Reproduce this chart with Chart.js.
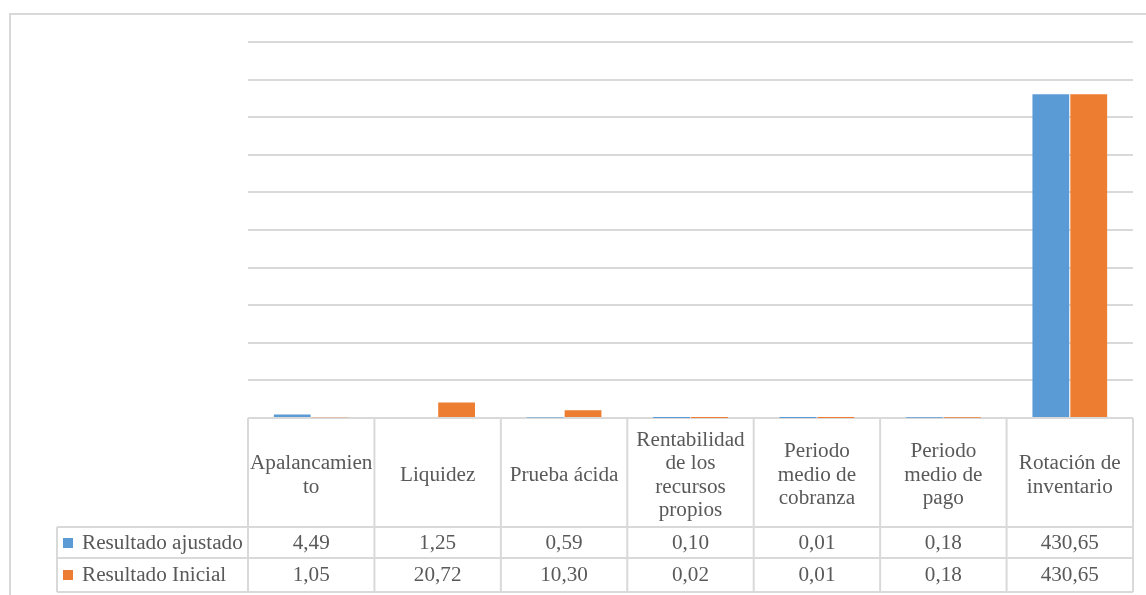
<!DOCTYPE html>
<html lang="es">
<head>
<meta charset="utf-8">
<script src="https://cdn.jsdelivr.net/npm/chart.js@4.4.1/dist/chart.umd.min.js"></script>
<style>
  html, body { margin: 0; padding: 0; background: #ffffff; }
  #wrap { width: 1146px; height: 595px; position: relative; }
</style>
</head>
<body>
<div id="wrap"><canvas id="chart" width="1146" height="595"></canvas></div>
<script>
// Indicator names (header lines of the data table)
const categories = [
  ['Apalancamien', 'to'],
  ['Liquidez'],
  ['Prueba ácida'],
  ['Rentabilidad', 'de los', 'recursos', 'propios'],
  ['Periodo', 'medio de', 'cobranza'],
  ['Periodo', 'medio de', 'pago'],
  ['Rotación de', 'inventario']
];

const seriesNames = ['Resultado ajustado', 'Resultado Inicial'];
const resultadoAjustado = [4.49, 1.25, 0.59, 0.10, 0.01, 0.18, 430.65];
const resultadoInicial  = [1.05, 20.72, 10.30, 0.02, 0.01, 0.18, 430.65];
const seriesColors = ['#5b9bd5', '#ed7d31'];

const yMax = 500;
const yStep = 50;

const TEXT = '#595959';
const LINE = '#d9d9d9';
const FONT = '20px "Liberation Serif", "Times New Roman", serif';
const STRETCH = 1.06;

function fmt(v) {
  return v.toFixed(2).replace('.', ',');
}

function stretchedText(ctx, text, x, y) {
  ctx.save();
  ctx.translate(x, y);
  ctx.scale(STRETCH, 1);
  ctx.fillText(text, 0, 0);
  ctx.restore();
}

// Frame, data table and legend keys beneath the plot
const dataTable = {
  id: 'dataTable',
  beforeDraw(chart) {
    const ctx = chart.ctx;
    ctx.save();
    ctx.fillStyle = '#ffffff';
    ctx.fillRect(0, 0, chart.width, chart.height);
    ctx.strokeStyle = LINE;
    ctx.lineWidth = 2;
    ctx.beginPath();
    ctx.moveTo(10, chart.height + 5);
    ctx.lineTo(10, 14);
    ctx.lineTo(chart.width + 5, 14);
    ctx.stroke();
    ctx.restore();
  },
  afterDraw(chart) {
    const ctx = chart.ctx;
    const area = chart.chartArea;
    const n = categories.length;
    const colW = (area.right - area.left) / n;
    const top = area.bottom;
    const headBottom = 527;
    const row1Bottom = 558;
    const row2Bottom = 592;
    const legendLeft = 57;

    ctx.save();
    ctx.strokeStyle = LINE;
    ctx.lineWidth = 2;
    ctx.beginPath();
    for (let i = 0; i <= n; i++) {
      const x = area.left + i * colW;
      ctx.moveTo(x, top);
      ctx.lineTo(x, row2Bottom);
    }
    ctx.moveTo(legendLeft, headBottom);
    ctx.lineTo(legendLeft, row2Bottom);
    [headBottom, row1Bottom, row2Bottom].forEach(y => {
      ctx.moveTo(legendLeft, y);
      ctx.lineTo(area.right, y);
    });
    ctx.stroke();

    ctx.fillStyle = TEXT;
    ctx.font = FONT;
    ctx.textAlign = 'center';
    ctx.textBaseline = 'middle';
    const lh = 23.5;
    const headMid = (top + headBottom) / 2 + 3;
    categories.forEach((lines, i) => {
      const cx = area.left + (i + 0.5) * colW;
      const y0 = headMid - (lines.length - 1) * lh / 2;
      lines.forEach((t, k) => stretchedText(ctx, t, cx, y0 + k * lh));
    });

    const rows = [
      { values: resultadoAjustado, mid: (headBottom + row1Bottom) / 2 + 1.5 },
      { values: resultadoInicial, mid: (row1Bottom + row2Bottom) / 2 + 1 }
    ];
    rows.forEach((row, r) => {
      ctx.textAlign = 'center';
      row.values.forEach((v, i) => {
        const cx = area.left + (i + 0.5) * colW;
        ctx.fillStyle = TEXT;
        stretchedText(ctx, fmt(v), cx, row.mid);
      });
      ctx.fillStyle = seriesColors[r];
      ctx.fillRect(63, row.mid - 6, 10, 10);
      ctx.fillStyle = TEXT;
      ctx.textAlign = 'left';
      stretchedText(ctx, seriesNames[r], 82, row.mid);
    });
    ctx.restore();
  }
};

new Chart(document.getElementById('chart'), {
  type: 'bar',
  data: {
    labels: categories,
    datasets: [
      {
        label: seriesNames[0],
        data: resultadoAjustado,
        backgroundColor: seriesColors[0],
        categoryPercentage: 0.6,
        barPercentage: 0.97
      },
      {
        label: seriesNames[1],
        data: resultadoInicial,
        backgroundColor: seriesColors[1],
        categoryPercentage: 0.6,
        barPercentage: 0.97
      }
    ]
  },
  options: {
    responsive: false,
    animation: false,
    layout: { padding: { left: 248, right: 13, top: 42, bottom: 177 } },
    plugins: {
      legend: { display: false },
      tooltip: { enabled: false },
      title: { display: false }
    },
    scales: {
      x: {
        display: false
      },
      y: {
        min: 0,
        max: yMax,
        ticks: { display: false, stepSize: yStep },
        border: { display: false },
        grid: { color: LINE, lineWidth: 2, drawTicks: false }
      }
    }
  },
  plugins: [dataTable]
});
</script>
</body>
</html>
